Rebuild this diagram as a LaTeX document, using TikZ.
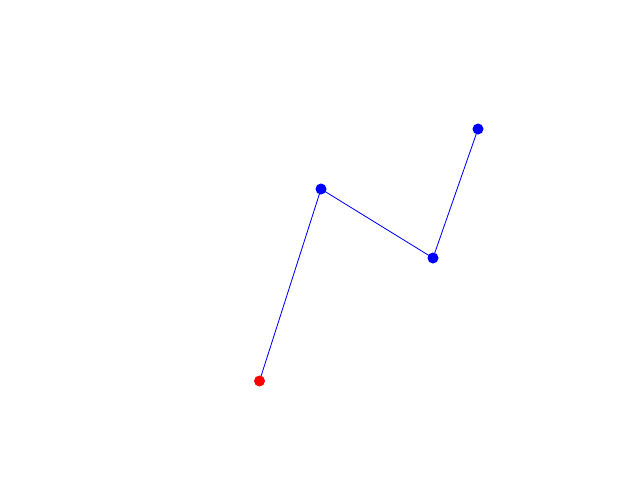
\documentclass[tikz,border=0pt]{standalone}
\usepackage{xcolor}
\usepackage{tikz}

\begin{document}
\begin{tikzpicture}[
        x=0.025cm, y=-0.025cm,
        pt/.style={circle, inner sep=0pt, minimum size=0.275cm},
        seg/.style={blue, line width=0.6pt}
    ]
        \useasboundingbox (0,0) rectangle (640,480);
        \coordinate (p0) at (259.5,381);
        \coordinate (p1) at (321,189);
        \coordinate (p2) at (433,258);
        \coordinate (p3) at (478,129);

        \draw[seg] (p0) -- (p1) -- (p2) -- (p3);
        \node[pt, fill=red] (n0) at (p0) {};
        \node[pt, fill=blue] (n1) at (p1) {};
        \node[pt, fill=blue] (n2) at (p2) {};
        \node[pt, fill=blue] (n3) at (p3) {};
    \end{tikzpicture}
\end{document}
